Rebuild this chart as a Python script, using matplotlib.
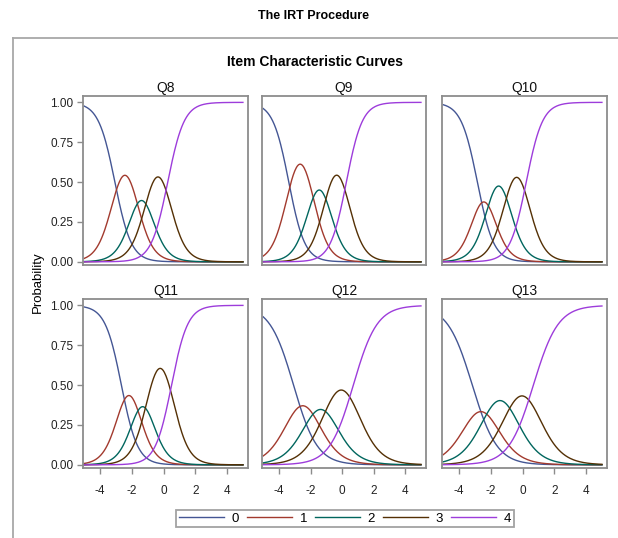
import numpy as np
import matplotlib

matplotlib.use("Agg")
import matplotlib.pyplot as plt
from matplotlib.lines import Line2D

plt.rcParams["font.family"] = ["Liberation Sans", "DejaVu Sans"]
plt.rcParams["axes.unicode_minus"] = False

# graded response item parameters
items = ["Q8", "Q9", "Q10", "Q11", "Q12", "Q13"]
slopes = [1.93, 1.98, 1.95, 1.96, 1.33, 1.285]
thresholds = [
    [-3.07, -1.81, -0.97, 0.26],
    [-3.38, -1.94, -0.96, 0.27],
    [-2.85, -2.04, -0.98, 0.23],
    [-2.66, -1.71, -0.93, 0.50],
    [-3.08, -1.91, -0.82, 0.71],
    [-3.17, -2.09, -0.76, 0.68],
]
categories = ["0", "1", "2", "3", "4"]
colors = ["#445694", "#A23A2E", "#01665E", "#543005", "#9D3CDB"]
theta = np.linspace(-5, 5, 201)
xticks = [-4, -2, 0, 2, 4]
yticks = [0, 0.25, 0.5, 0.75, 1.0]

W, H = 618, 538
fig = plt.figure(figsize=(W / 100, H / 100), dpi=100)


def rect(x0, x1, ytop, ybot):
    return [x0 / W, 1 - ybot / H, (x1 - x0) / W, (ybot - ytop) / H]


cols = [(83, 248), (262, 426), (442, 607)]
rows = [(96, 265), (299, 468)]
frame_col = "#8c8c8c"

for i, item in enumerate(items):
    r, c = divmod(i, 3)
    ax = fig.add_axes(rect(cols[c][0], cols[c][1], rows[r][0], rows[r][1]))
    a = slopes[i]
    cum = [np.ones_like(theta)]
    for b in thresholds[i]:
        cum.append(1 / (1 + np.exp(-a * (theta - b))))
    cum.append(np.zeros_like(theta))
    for k in range(5):
        ax.plot(theta, cum[k] - cum[k + 1], color=colors[k], lw=1.0)

    ax.set_xlim(-5.08, 5.32)
    ax.set_ylim(-0.02, 1.04)
    ax.set_xticks(xticks)
    ax.set_yticks(yticks)
    ax.set_yticklabels([f"{v:.2f}" for v in yticks])
    ax.tick_params(colors=frame_col, labelcolor="#222222", labelsize=8.5,
                   length=4, width=1, pad=3)
    if r == 0:
        ax.tick_params(axis="x", bottom=False, labelbottom=False)
    else:
        ax.tick_params(axis="x", pad=8)
    if c != 0:
        ax.tick_params(axis="y", left=False, labelleft=False)
    for s in ax.spines.values():
        s.set_color(frame_col)
        s.set_linewidth(1.3)
    ax.set_title(item, fontsize=10, pad=3, color="#111111")

# outer frame of the output panel
fig.add_artist(Line2D([13 / W, 13 / W], [0, 1 - 38 / H], color="#a8a8a8", lw=1.3))
fig.add_artist(Line2D([13 / W, 1], [1 - 38 / H, 1 - 38 / H], color="#a8a8a8", lw=1.3))

fig.text(313 / W, 1 - 16 / H, "The IRT Procedure", ha="center", va="center",
         fontsize=9, fontweight="bold")
fig.text(315 / W, 1 - 62 / H, "Item Characteristic Curves", ha="center", va="center",
         fontsize=10, fontweight="bold")
fig.text(38 / W, 1 - 282 / H, "Probability", ha="center", va="center",
         rotation=90, fontsize=9.5)

handles = [Line2D([], [], color=col, lw=1.0) for col in colors]
leg = fig.legend(handles, categories, loc="center", ncol=5,
                 bbox_to_anchor=(345 / W, 1 - 518.5 / H), fontsize=9.5,
                 frameon=True, fancybox=False, handlelength=3.4,
                 handletextpad=0.6, columnspacing=0.6, borderpad=0.2)
leg.get_frame().set_edgecolor(frame_col)
leg.get_frame().set_linewidth(1.3)

fig.savefig("out.png", dpi=100)
plt.close(fig)
